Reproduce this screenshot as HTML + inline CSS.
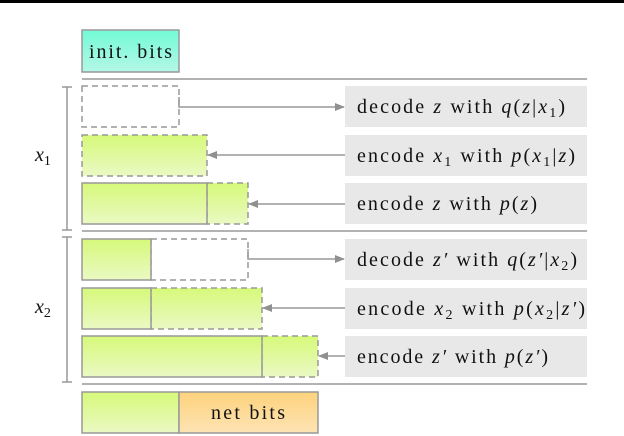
<!DOCTYPE html>
<html><head><meta charset="utf-8"><style>
html,body{margin:0;padding:0;background:#fff;}
svg{display:block;}
text{font-family:"Liberation Serif",serif;font-size:20px;fill:#111;}
.i{font-style:italic;}
</style></head><body>
<svg width="624" height="436" viewBox="0 0 624 436" xmlns="http://www.w3.org/2000/svg">
<defs>
<linearGradient id="g" x1="0" y1="0" x2="0" y2="1"><stop offset="0" stop-color="#d6f97a"/><stop offset="1" stop-color="#eaf9c4"/></linearGradient>
<linearGradient id="c" x1="0" y1="0" x2="0" y2="1"><stop offset="0" stop-color="#73fad6"/><stop offset="1" stop-color="#b3f8e6"/></linearGradient>
<linearGradient id="o" x1="0" y1="0" x2="0" y2="1"><stop offset="0" stop-color="#fdd27c"/><stop offset="1" stop-color="#fde3b4"/></linearGradient>
<marker id="a" markerWidth="10" markerHeight="8" refX="9" refY="4" orient="auto" markerUnits="userSpaceOnUse"><path d="M0,0 L10,4 L0,8 z" fill="#909090"/></marker>
</defs>
<rect x="0" y="0" width="624" height="3" fill="#000"/>
<g stroke="#999" stroke-width="1.5" fill="none">
<rect x="82" y="30" width="97" height="42" fill="url(#c)"/>
<line x1="82" y1="79" x2="587" y2="79"/>
<line x1="82" y1="231" x2="587" y2="231"/>
<line x1="82" y1="384" x2="587" y2="384"/>
<line x1="67" y1="87" x2="67" y2="230"/><line x1="62" y1="87" x2="72" y2="87"/><line x1="62" y1="230" x2="72" y2="230"/>
<line x1="67" y1="237" x2="67" y2="382"/><line x1="62" y1="237" x2="72" y2="237"/><line x1="62" y1="382" x2="72" y2="382"/>
<rect x="82" y="86" width="97" height="41" stroke-dasharray="6,4"/>
<rect x="82" y="135" width="125" height="41" fill="url(#g)" stroke-dasharray="6,4"/>
<rect x="207" y="183" width="41" height="41" fill="url(#g)" stroke-dasharray="6,4"/>
<rect x="82" y="183" width="125" height="41" fill="url(#g)"/>
<rect x="151" y="239" width="97" height="41" stroke-dasharray="6,4"/>
<rect x="82" y="239" width="69" height="41" fill="url(#g)"/>
<rect x="151" y="288" width="111" height="41" fill="url(#g)" stroke-dasharray="6,4"/>
<rect x="82" y="288" width="69" height="41" fill="url(#g)"/>
<rect x="262" y="336" width="56" height="41" fill="url(#g)" stroke-dasharray="6,4"/>
<rect x="82" y="336" width="180" height="41" fill="url(#g)"/>
<rect x="82" y="392" width="97" height="41" fill="url(#g)"/>
<rect x="179" y="392" width="139" height="41" fill="url(#o)"/>
<polyline points="179,97 179,107 344,107" marker-end="url(#a)"/>
<line x1="345" y1="155" x2="208" y2="155" marker-end="url(#a)"/>
<line x1="345" y1="204" x2="249" y2="204" marker-end="url(#a)"/>
<polyline points="248,249 248,259 344,259" marker-end="url(#a)"/>
<line x1="345" y1="308" x2="263" y2="308" marker-end="url(#a)"/>
<line x1="345" y1="356" x2="319" y2="356" marker-end="url(#a)"/>
</g>
<g fill="#e8e8e8">
<rect x="345" y="86" width="242" height="41"/>
<rect x="345" y="135" width="242" height="41"/>
<rect x="345" y="183" width="242" height="41"/>
<rect x="345" y="239" width="242" height="41"/>
<rect x="345" y="288" width="242" height="41"/>
<rect x="345" y="336" width="242" height="41"/>
</g>
<text x="89" y="58" textLength="83" lengthAdjust="spacing">init. bits</text>
<text x="211" y="419" textLength="74" lengthAdjust="spacing">net bits</text>
<text x="35" y="161" class="i" font-size="21">x<tspan font-size="14" font-style="normal" dy="4">1</tspan></text>
<text x="35" y="313" class="i" font-size="21">x<tspan font-size="14" font-style="normal" dy="4">2</tspan></text>
<text x="357" y="113" textLength="208" lengthAdjust="spacing">decode <tspan class="i">z</tspan> with <tspan class="i">q</tspan>(<tspan class="i">z</tspan>|<tspan class="i">x</tspan><tspan font-size="14" dy="4">1</tspan><tspan dy="-4">)</tspan></text>
<text x="357" y="162" textLength="218" lengthAdjust="spacing">encode <tspan class="i">x</tspan><tspan font-size="14" dy="4">1</tspan><tspan dy="-4"> with </tspan><tspan class="i">p</tspan>(<tspan class="i">x</tspan><tspan font-size="14" dy="4">1</tspan><tspan dy="-4">|</tspan><tspan class="i">z</tspan>)</text>
<text x="357" y="210" textLength="180" lengthAdjust="spacing">encode <tspan class="i">z</tspan> with <tspan class="i">p</tspan>(<tspan class="i">z</tspan>)</text>
<text x="357" y="266" textLength="220" lengthAdjust="spacing">decode <tspan class="i">z′</tspan> with <tspan class="i">q</tspan>(<tspan class="i">z′</tspan>|<tspan class="i">x</tspan><tspan font-size="14" dy="4">2</tspan><tspan dy="-4">)</tspan></text>
<text x="357" y="315" textLength="228" lengthAdjust="spacing">encode <tspan class="i">x</tspan><tspan font-size="14" dy="4">2</tspan><tspan dy="-4"> with </tspan><tspan class="i">p</tspan>(<tspan class="i">x</tspan><tspan font-size="14" dy="4">2</tspan><tspan dy="-4">|</tspan><tspan class="i">z′</tspan>)</text>
<text x="357" y="363" textLength="191" lengthAdjust="spacing">encode <tspan class="i">z′</tspan> with <tspan class="i">p</tspan>(<tspan class="i">z′</tspan>)</text>
</svg>
</body></html>
